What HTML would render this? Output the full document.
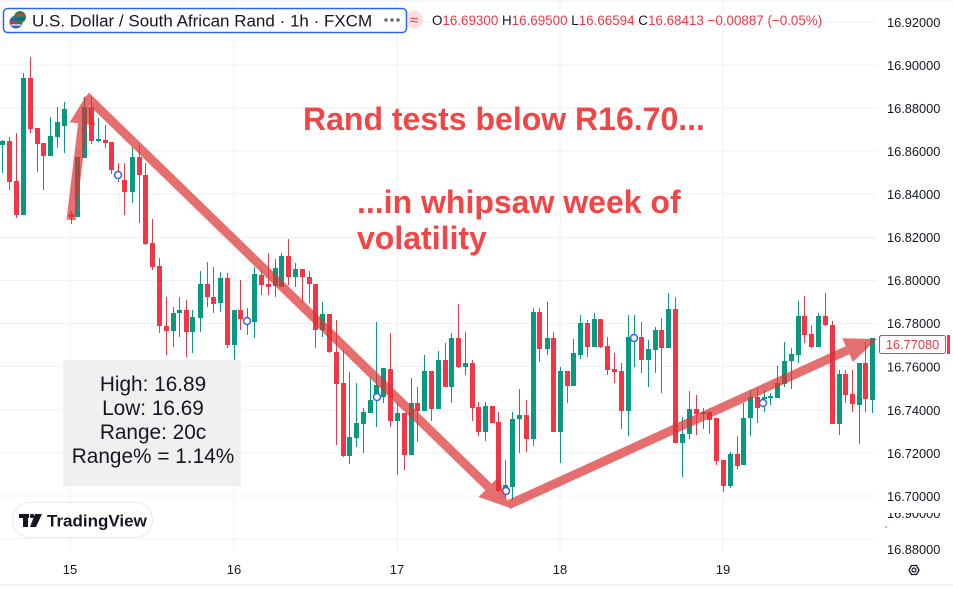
<!DOCTYPE html>
<html><head><meta charset="utf-8"><style>
html,body{margin:0;padding:0;background:#fff;}
svg{display:block;font-family:"Liberation Sans",Arial,sans-serif;}
</style></head><body>
<svg width="953" height="589" viewBox="0 0 953 589" xmlns="http://www.w3.org/2000/svg">
<rect width="953" height="589" fill="#fff"/>
<line x1="0" y1="1" x2="953" y2="1" stroke="#eceef2" stroke-width="1"/>
<!-- grid -->
<g stroke="#f0f1f4" stroke-width="1">
<line x1="0" y1="22" x2="877" y2="22"/><line x1="0" y1="65" x2="877" y2="65"/><line x1="0" y1="108" x2="877" y2="108"/>
<line x1="0" y1="151" x2="877" y2="151"/><line x1="0" y1="194" x2="877" y2="194"/><line x1="0" y1="237.5" x2="877" y2="237.5"/>
<line x1="0" y1="280.5" x2="877" y2="280.5"/><line x1="0" y1="323.5" x2="877" y2="323.5"/><line x1="0" y1="366.5" x2="877" y2="366.5"/>
<line x1="0" y1="410" x2="877" y2="410"/><line x1="0" y1="453" x2="877" y2="453"/><line x1="0" y1="496" x2="877" y2="496"/>
<line x1="0" y1="539" x2="877" y2="539"/>
<line x1="70" y1="0" x2="70" y2="553"/><line x1="234" y1="0" x2="234" y2="553"/><line x1="397" y1="0" x2="397" y2="553"/>
<line x1="560" y1="0" x2="560" y2="553"/><line x1="723" y1="0" x2="723" y2="553"/>
</g>
<line x1="0" y1="585" x2="953" y2="585" stroke="#e0e3eb" stroke-width="1"/>

<!-- candles -->
<g stroke-width="1">
<g stroke="#089981">
<line x1="2.5" y1="140" x2="2.5" y2="173"/><line x1="23.5" y1="73" x2="23.5" y2="215"/><line x1="50.5" y1="117" x2="50.5" y2="156"/><line x1="57.5" y1="107" x2="57.5" y2="148"/><line x1="64.5" y1="102" x2="64.5" y2="153"/><line x1="77.5" y1="157" x2="77.5" y2="217"/><line x1="84.5" y1="97" x2="84.5" y2="158"/><line x1="98.5" y1="118" x2="98.5" y2="142"/><line x1="132.5" y1="147" x2="132.5" y2="203"/><line x1="173.5" y1="307" x2="173.5" y2="347"/><line x1="179.5" y1="297" x2="179.5" y2="337"/><line x1="192.5" y1="310" x2="192.5" y2="353"/><line x1="200.5" y1="271" x2="200.5" y2="332"/><line x1="220.5" y1="272" x2="220.5" y2="312"/><line x1="234.5" y1="310" x2="234.5" y2="360"/><line x1="254.5" y1="267" x2="254.5" y2="338"/><line x1="275.5" y1="259" x2="275.5" y2="297"/><line x1="281.5" y1="253" x2="281.5" y2="287"/><line x1="295.5" y1="263" x2="295.5" y2="287"/><line x1="322.5" y1="302" x2="322.5" y2="337"/><line x1="349.5" y1="372" x2="349.5" y2="464"/><line x1="356.5" y1="383" x2="356.5" y2="447"/><line x1="363.5" y1="408" x2="363.5" y2="453"/><line x1="370.5" y1="378" x2="370.5" y2="413"/><line x1="376.5" y1="322" x2="376.5" y2="427"/><line x1="383.5" y1="368" x2="383.5" y2="403"/><line x1="397.5" y1="403" x2="397.5" y2="475"/><line x1="411.5" y1="378" x2="411.5" y2="455"/><line x1="424.5" y1="355" x2="424.5" y2="411"/><line x1="438.5" y1="351" x2="438.5" y2="409"/><line x1="451.5" y1="333" x2="451.5" y2="403"/><line x1="465.5" y1="332" x2="465.5" y2="375"/><line x1="485.5" y1="402" x2="485.5" y2="441"/><line x1="505.5" y1="460" x2="505.5" y2="498"/><line x1="512.5" y1="412" x2="512.5" y2="500"/><line x1="519.5" y1="389" x2="519.5" y2="453"/><line x1="533.5" y1="308" x2="533.5" y2="446"/><line x1="547.5" y1="302" x2="547.5" y2="355"/><line x1="560.5" y1="367" x2="560.5" y2="463"/><line x1="573.5" y1="339" x2="573.5" y2="386"/><line x1="580.5" y1="315" x2="580.5" y2="359"/><line x1="594.5" y1="313" x2="594.5" y2="347"/><line x1="628.5" y1="315" x2="628.5" y2="436"/><line x1="634.5" y1="315" x2="634.5" y2="367"/><line x1="648.5" y1="340" x2="648.5" y2="387"/><line x1="655.5" y1="327" x2="655.5" y2="373"/><line x1="668.5" y1="293" x2="668.5" y2="348"/><line x1="682.5" y1="417" x2="682.5" y2="477"/><line x1="689.5" y1="391" x2="689.5" y2="439"/><line x1="703.5" y1="408" x2="703.5" y2="429"/><line x1="730.5" y1="452" x2="730.5" y2="488"/><line x1="743.5" y1="403" x2="743.5" y2="465"/><line x1="750.5" y1="390" x2="750.5" y2="436"/><line x1="764.5" y1="390" x2="764.5" y2="412"/><line x1="770.5" y1="393" x2="770.5" y2="405"/><line x1="777.5" y1="366" x2="777.5" y2="398"/><line x1="784.5" y1="342" x2="784.5" y2="387"/><line x1="791.5" y1="348" x2="791.5" y2="389"/><line x1="798.5" y1="301" x2="798.5" y2="363"/><line x1="818.5" y1="313" x2="818.5" y2="347"/><line x1="839.5" y1="370" x2="839.5" y2="435"/><line x1="859.5" y1="363" x2="859.5" y2="444"/><line x1="872.5" y1="338" x2="872.5" y2="413"/>
</g>
<g stroke="#f23645">
<line x1="9.5" y1="137" x2="9.5" y2="190"/><line x1="16.5" y1="133" x2="16.5" y2="218"/><line x1="30.5" y1="57" x2="30.5" y2="133"/><line x1="37.5" y1="128" x2="37.5" y2="172"/><line x1="43.5" y1="143" x2="43.5" y2="190"/><line x1="71.5" y1="211" x2="71.5" y2="224"/><line x1="91.5" y1="97" x2="91.5" y2="144"/><line x1="105.5" y1="125" x2="105.5" y2="148"/><line x1="111.5" y1="142" x2="111.5" y2="174"/><line x1="118.5" y1="163" x2="118.5" y2="182"/><line x1="124.5" y1="163" x2="124.5" y2="215"/><line x1="139.5" y1="145" x2="139.5" y2="223"/><line x1="145.5" y1="163" x2="145.5" y2="245"/><line x1="152.5" y1="219" x2="152.5" y2="270"/><line x1="159.5" y1="258" x2="159.5" y2="333"/><line x1="166.5" y1="297" x2="166.5" y2="355"/><line x1="186.5" y1="300" x2="186.5" y2="357"/><line x1="207.5" y1="262" x2="207.5" y2="307"/><line x1="213.5" y1="267" x2="213.5" y2="313"/><line x1="227.5" y1="273" x2="227.5" y2="348"/><line x1="240.5" y1="280" x2="240.5" y2="330"/><line x1="247.5" y1="308" x2="247.5" y2="335"/><line x1="261.5" y1="270" x2="261.5" y2="295"/><line x1="268.5" y1="253" x2="268.5" y2="295"/><line x1="288.5" y1="239" x2="288.5" y2="285"/><line x1="302.5" y1="269" x2="302.5" y2="303"/><line x1="309.5" y1="271" x2="309.5" y2="303"/><line x1="315.5" y1="284" x2="315.5" y2="348"/><line x1="329.5" y1="314" x2="329.5" y2="353"/><line x1="336.5" y1="320" x2="336.5" y2="445"/><line x1="343.5" y1="350" x2="343.5" y2="457"/><line x1="390.5" y1="333" x2="390.5" y2="427"/><line x1="404.5" y1="413" x2="404.5" y2="470"/><line x1="417.5" y1="387" x2="417.5" y2="442"/><line x1="431.5" y1="371" x2="431.5" y2="421"/><line x1="445.5" y1="343" x2="445.5" y2="387"/><line x1="458.5" y1="304" x2="458.5" y2="368"/><line x1="472.5" y1="360" x2="472.5" y2="421"/><line x1="478.5" y1="402" x2="478.5" y2="436"/><line x1="492.5" y1="406" x2="492.5" y2="423"/><line x1="498.5" y1="412" x2="498.5" y2="492"/><line x1="526.5" y1="400" x2="526.5" y2="452"/><line x1="539.5" y1="308" x2="539.5" y2="362"/><line x1="553.5" y1="332" x2="553.5" y2="432"/><line x1="567.5" y1="371" x2="567.5" y2="403"/><line x1="587.5" y1="320" x2="587.5" y2="357"/><line x1="600.5" y1="319" x2="600.5" y2="348"/><line x1="607.5" y1="337" x2="607.5" y2="375"/><line x1="614.5" y1="353" x2="614.5" y2="383"/><line x1="621.5" y1="363" x2="621.5" y2="429"/><line x1="641.5" y1="322" x2="641.5" y2="373"/><line x1="661.5" y1="318" x2="661.5" y2="393"/><line x1="675.5" y1="297" x2="675.5" y2="443"/><line x1="696.5" y1="395" x2="696.5" y2="435"/><line x1="709.5" y1="411" x2="709.5" y2="434"/><line x1="716.5" y1="418" x2="716.5" y2="465"/><line x1="723.5" y1="460" x2="723.5" y2="492"/><line x1="737.5" y1="436" x2="737.5" y2="469"/><line x1="757.5" y1="388" x2="757.5" y2="423"/><line x1="804.5" y1="296" x2="804.5" y2="343"/><line x1="811.5" y1="325" x2="811.5" y2="348"/><line x1="825.5" y1="293" x2="825.5" y2="326"/><line x1="832.5" y1="321" x2="832.5" y2="424"/><line x1="845.5" y1="370" x2="845.5" y2="403"/><line x1="852.5" y1="370" x2="852.5" y2="412"/><line x1="865.5" y1="342" x2="865.5" y2="412"/>
</g>
</g>
<g fill="#089981">
<rect x="0" y="141" width="5" height="4"/><rect x="21" y="78" width="5" height="137"/><rect x="48" y="136" width="5" height="20"/><rect x="55" y="122" width="5" height="15"/><rect x="62" y="109" width="5" height="17"/><rect x="75" y="157" width="5" height="60"/><rect x="82" y="107" width="5" height="51"/><rect x="96" y="139" width="5" height="2"/><rect x="130" y="157" width="5" height="35"/><rect x="171" y="313" width="5" height="18"/><rect x="177" y="310" width="5" height="3"/><rect x="190" y="317" width="5" height="15"/><rect x="198" y="284" width="5" height="34"/><rect x="218" y="278" width="5" height="25"/><rect x="232" y="310" width="5" height="35"/><rect x="252" y="274" width="5" height="48"/><rect x="273" y="268" width="5" height="18"/><rect x="279" y="256" width="5" height="31"/><rect x="293" y="269" width="5" height="8"/><rect x="320" y="314" width="5" height="16"/><rect x="347" y="437" width="5" height="19"/><rect x="354" y="423" width="5" height="15"/><rect x="361" y="412" width="5" height="12"/><rect x="368" y="400" width="5" height="13"/><rect x="374" y="385" width="5" height="15"/><rect x="381" y="368" width="5" height="29"/><rect x="395" y="413" width="5" height="8"/><rect x="409" y="403" width="5" height="52"/><rect x="422" y="371" width="5" height="40"/><rect x="436" y="360" width="5" height="49"/><rect x="449" y="338" width="5" height="49"/><rect x="463" y="363" width="5" height="4"/><rect x="483" y="406" width="5" height="26"/><rect x="503" y="485" width="5" height="5"/><rect x="510" y="419" width="5" height="68"/><rect x="517" y="415" width="5" height="4"/><rect x="531" y="312" width="5" height="127"/><rect x="545" y="338" width="5" height="11"/><rect x="558" y="371" width="5" height="61"/><rect x="571" y="353" width="5" height="33"/><rect x="578" y="323" width="5" height="32"/><rect x="592" y="319" width="5" height="28"/><rect x="626" y="337" width="5" height="74"/><rect x="632" y="337" width="5" height="3"/><rect x="646" y="349" width="5" height="11"/><rect x="653" y="330" width="5" height="20"/><rect x="666" y="309" width="5" height="39"/><rect x="680" y="434" width="5" height="9"/><rect x="687" y="409" width="5" height="25"/><rect x="701" y="412" width="5" height="2"/><rect x="728" y="454" width="5" height="32"/><rect x="741" y="418" width="5" height="47"/><rect x="748" y="397" width="5" height="21"/><rect x="762" y="397" width="5" height="2"/><rect x="768" y="396" width="5" height="2"/><rect x="775" y="383" width="5" height="15"/><rect x="782" y="361" width="5" height="23"/><rect x="789" y="354" width="5" height="7"/><rect x="796" y="316" width="5" height="39"/><rect x="816" y="316" width="5" height="31"/><rect x="837" y="374" width="5" height="50"/><rect x="857" y="363" width="5" height="42"/><rect x="870" y="338" width="5" height="62"/>
</g>
<g fill="#f23645">
<rect x="7" y="141" width="5" height="41"/><rect x="14" y="181" width="5" height="34"/><rect x="28" y="78" width="5" height="51"/><rect x="35" y="128" width="5" height="16"/><rect x="41" y="143" width="5" height="13"/><rect x="69" y="214" width="5" height="3"/><rect x="89" y="107" width="5" height="34"/><rect x="103" y="140" width="5" height="3"/><rect x="109" y="142" width="5" height="28"/><rect x="116" y="172" width="5" height="3"/><rect x="122" y="180" width="5" height="12"/><rect x="137" y="157" width="5" height="18"/><rect x="143" y="175" width="5" height="69"/><rect x="150" y="243" width="5" height="24"/><rect x="157" y="266" width="5" height="60"/><rect x="164" y="326" width="5" height="5"/><rect x="184" y="310" width="5" height="22"/><rect x="205" y="284" width="5" height="13"/><rect x="211" y="297" width="5" height="7"/><rect x="225" y="278" width="5" height="67"/><rect x="238" y="310" width="5" height="9"/><rect x="245" y="319" width="5" height="4"/><rect x="259" y="275" width="5" height="10"/><rect x="266" y="284" width="5" height="3"/><rect x="286" y="256" width="5" height="21"/><rect x="300" y="269" width="5" height="8"/><rect x="307" y="277" width="5" height="7"/><rect x="313" y="284" width="5" height="46"/><rect x="327" y="314" width="5" height="38"/><rect x="334" y="352" width="5" height="32"/><rect x="341" y="383" width="5" height="73"/><rect x="388" y="369" width="5" height="52"/><rect x="402" y="413" width="5" height="42"/><rect x="415" y="403" width="5" height="8"/><rect x="429" y="371" width="5" height="38"/><rect x="443" y="360" width="5" height="27"/><rect x="456" y="338" width="5" height="29"/><rect x="470" y="363" width="5" height="45"/><rect x="476" y="407" width="5" height="25"/><rect x="490" y="406" width="5" height="17"/><rect x="496" y="422" width="5" height="69"/><rect x="524" y="415" width="5" height="24"/><rect x="537" y="312" width="5" height="37"/><rect x="551" y="338" width="5" height="94"/><rect x="565" y="371" width="5" height="15"/><rect x="585" y="323" width="5" height="24"/><rect x="598" y="319" width="5" height="28"/><rect x="605" y="346" width="5" height="24"/><rect x="612" y="369" width="5" height="3"/><rect x="619" y="371" width="5" height="40"/><rect x="639" y="337" width="5" height="23"/><rect x="659" y="330" width="5" height="18"/><rect x="673" y="309" width="5" height="134"/><rect x="694" y="409" width="5" height="5"/><rect x="707" y="412" width="5" height="8"/><rect x="714" y="418" width="5" height="43"/><rect x="721" y="460" width="5" height="26"/><rect x="735" y="454" width="5" height="12"/><rect x="755" y="397" width="5" height="11"/><rect x="802" y="316" width="5" height="19"/><rect x="809" y="334" width="5" height="13"/><rect x="823" y="316" width="5" height="9"/><rect x="830" y="325" width="5" height="99"/><rect x="843" y="374" width="5" height="21"/><rect x="850" y="394" width="5" height="10"/><rect x="863" y="363" width="5" height="36"/>
</g>

<!-- markers -->
<g fill="#fff" stroke="#2962ff" stroke-width="1.5">
<circle cx="118" cy="175" r="3.5"/><circle cx="247" cy="321" r="3.5"/><circle cx="377" cy="397" r="3.5"/>
<circle cx="506" cy="491" r="3.5"/><circle cx="634" cy="338" r="3.5"/><circle cx="763" cy="403" r="3.5"/>
</g>

<!-- arrows -->
<g opacity="0.7">
<g stroke="#dc3232" stroke-width="9" stroke-linecap="butt">
<line x1="71" y1="220" x2="82.6" y2="123.8"/>
<line x1="86" y1="96" x2="488.5" y2="487"/>
<line x1="508" y1="505" x2="847.6" y2="350.2"/>
</g>
<g fill="#dc3232">
<polygon points="86,96 95.5,125.4 69.7,122.2"/>
<polygon points="510,508 478.7,497 498.3,477"/>
<polygon points="877,339 852.9,362 842.3,338.3"/>
</g>
</g>

<!-- annotation text -->
<g fill="#f24545" font-weight="bold" font-size="32">
<text x="303" y="130">Rand tests below R16.70...</text>
<text x="357" y="213">...in whipsaw week of</text>
<text x="357" y="249">volatility</text>
</g>

<!-- stats box -->
<rect x="63" y="360" width="178" height="126" fill="#f0f0f0"/>
<g fill="#131722" font-size="20.8" text-anchor="middle">
<text x="153" y="391">High: 16.89</text>
<text x="153" y="415">Low: 16.69</text>
<text x="153" y="439">Range: 20c</text>
<text x="153" y="463">Range% = 1.14%</text>
</g>

<!-- TradingView logo -->
<rect x="12.5" y="502.5" width="140" height="35" rx="17.5" fill="#fff" stroke="#e8e9ec"/>
<g fill="#131722">
<rect x="19" y="514" width="10" height="4"/><rect x="23" y="514" width="5" height="13"/>
<circle cx="32" cy="516" r="2.2"/><polygon points="35,514 42,514 36,527 30,527"/>
</g>
<text x="47" y="526.5" font-size="17" font-weight="bold" fill="#131722">TradingView</text>

<!-- header -->
<rect x="3.5" y="8.5" width="403" height="24" rx="4" fill="#fff" stroke="#2962ff" stroke-width="1.3"/>
<circle cx="16" cy="22" r="6.5" fill="#3c5fb8"/>
<path d="M10,22 h12.5" stroke="#e03030" stroke-width="2"/>
<path d="M11,25 h10" stroke="#fff" stroke-width="1.2"/>
<circle cx="20" cy="17" r="6" fill="#1a8a4a"/>
<path d="M15,15 L25,15" stroke="#e03a3a" stroke-width="2"/>
<path d="M15,19 L25,19" stroke="#2a4fb0" stroke-width="2"/>
<text x="32" y="26.5" font-size="17" fill="#131722">U.S. Dollar / South African Rand · 1h · FXCM</text>
<g fill="#6a6d78"><circle cx="386" cy="20" r="1.8"/><circle cx="392" cy="20" r="1.8"/><circle cx="398" cy="20" r="1.8"/></g>
<circle cx="414" cy="19.5" r="9" fill="#fcdfe3"/>
<rect x="3.5" y="8.5" width="403" height="24" rx="4" fill="none" stroke="#2962ff" stroke-width="1.3"/>
<text x="414" y="25" font-size="15" fill="#f23645" text-anchor="middle">≈</text>
<text x="432" y="25" font-size="13.4" fill="#f23645"><tspan fill="#131722">O</tspan>16.69300 <tspan fill="#131722">H</tspan>16.69500 <tspan fill="#131722">L</tspan>16.66594 <tspan fill="#131722">C</tspan>16.68413 −0.00887 (−0.05%)</text>

<!-- price axis -->
<g fill="#131722" font-size="12.8">
<text x="887" y="27">16.92000</text><text x="887" y="70">16.90000</text><text x="887" y="113">16.88000</text>
<text x="887" y="156">16.86000</text><text x="887" y="199">16.84000</text><text x="887" y="242">16.82000</text>
<text x="887" y="285">16.80000</text><text x="887" y="328">16.78000</text><text x="887" y="371.5">16.76000</text>
<text x="887" y="415">16.74000</text><text x="887" y="458">16.72000</text><text x="887" y="501">16.70000</text>
<text x="887" y="554">16.88000</text>
</g>
<clipPath id="cl"><rect x="880" y="513" width="70" height="6"/></clipPath>
<text x="887" y="518" font-size="12.8" fill="#131722" clip-path="url(#cl)">16.90000</text>
<rect x="885" y="526" width="2" height="2" fill="#f7a0a8"/>
<rect x="879.5" y="335.5" width="66" height="18" rx="2" fill="#fff" stroke="#f23645"/>
<text x="912.5" y="349" font-size="12.8" fill="#f23645" text-anchor="middle">16.77080</text>
<rect x="947" y="335" width="3" height="19" fill="#f23645"/>

<!-- time axis -->
<g fill="#131722" font-size="13" text-anchor="middle">
<text x="70" y="574">15</text><text x="234" y="574">16</text><text x="397" y="574">17</text>
<text x="560" y="574">18</text><text x="723" y="574">19</text>
</g>
<polygon points="909,570 911.5,565.5 916.5,565.5 919,570 916.5,574.5 911.5,574.5" fill="none" stroke="#131722" stroke-width="1.3"/>
<circle cx="914" cy="570" r="2" fill="none" stroke="#131722" stroke-width="1.2"/>
</svg>
</body></html>
